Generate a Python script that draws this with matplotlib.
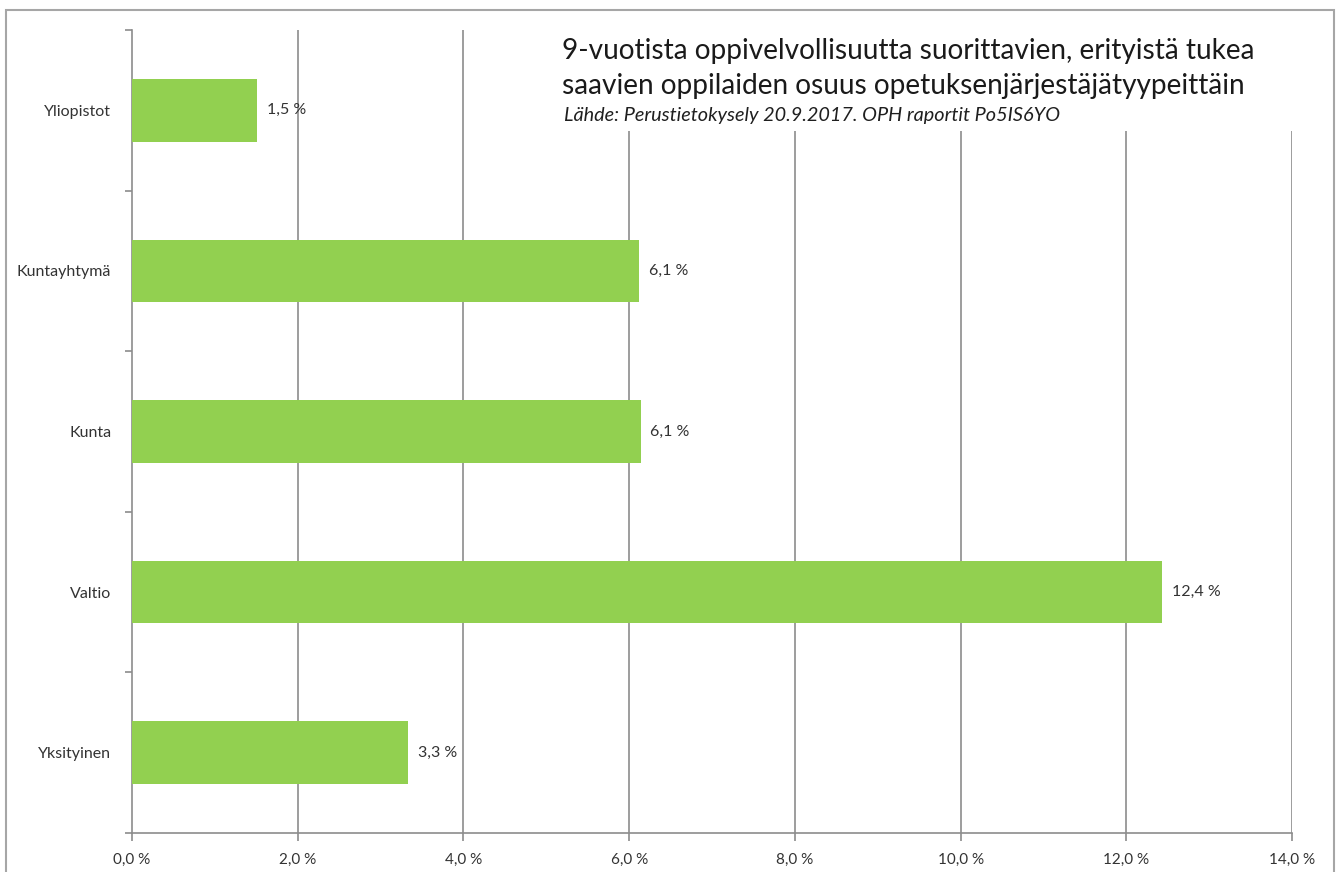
import matplotlib
matplotlib.use("Agg")
import matplotlib.pyplot as plt
from matplotlib.patches import Rectangle
from matplotlib.ticker import FixedLocator

categories = ["Yliopistot", "Kuntayhtymä", "Kunta", "Valtio", "Yksityinen"]
values = [1.5, 6.1, 6.1, 12.4, 3.3]
bar_ends = [1.51, 6.12, 6.14, 12.43, 3.33]
xticks = [0, 2, 4, 6, 8, 10, 12, 14]
xtick_labels = ["0,0 %", "2,0 %", "4,0 %", "6,0 %", "8,0 %", "10,0 %", "12,0 %", "14,0 %"]
title_lines = ["9-vuotista oppivelvollisuutta suorittavien, erityistä tukea",
               "saavien oppilaiden osuus opetuksenjärjestäjätyypeittäin"]
subtitle = "Lähde: Perustietokysely 20.9.2017. OPH raportit Po5IS6YO"

plt.rcParams['font.family'] = ['Lato', 'DejaVu Sans']
W, H = 1341, 872
fig = plt.figure(figsize=(W / 100, H / 100), dpi=100)
fig.patch.set_facecolor("white")

# outer frame
fig.add_artist(Rectangle((6 / W, -0.05), 1328 / W, (H - 10) / H + 0.05,
                         transform=fig.transFigure, fill=False,
                         edgecolor="#A6A6A6", linewidth=1.5))

ax = fig.add_axes([132 / W, (H - 833) / H, (1292 - 132) / W, (833 - 30) / H])
grid_c = "#8C8C8C"
text_c = "#333333"
ypos = list(range(len(categories)))
ax.barh(ypos, bar_ends, height=0.39, color="#92D050", zorder=3)
ax.set_xlim(0, 14)
ax.set_ylim(len(categories) - 0.5, -0.5)

ax.set_xticks(xticks)
ax.set_xticklabels(xtick_labels, fontsize=11, color=text_c)
ax.set_yticks(ypos)
ax.set_yticklabels(categories, fontsize=11.5, color=text_c)
ax.tick_params(axis='y', which='major', length=0, pad=15)
ax.yaxis.set_minor_locator(FixedLocator([i - 0.5 for i in range(len(categories) + 1)]))
ax.tick_params(axis='y', which='minor', length=5, color=grid_c, width=1.2)
ax.tick_params(axis='x', length=6, color=grid_c, width=1.2, pad=8)

for x in xticks[1:]:
    ax.axvline(x, color=grid_c, linewidth=1.2, zorder=1)
for s in ["top", "right"]:
    ax.spines[s].set_visible(False)
for s in ["left", "bottom"]:
    ax.spines[s].set_color(grid_c)
    ax.spines[s].set_linewidth(1.2)

for y, v, e in zip(ypos, values, bar_ends):
    ax.annotate(f"{v:.1f} %".replace(".", ","), xy=(e, y), xytext=(7, 0),
                textcoords="offset points", va="center", ha="left",
                fontsize=11.5, color=text_c, zorder=4)

# title box covering gridlines
fig.add_artist(Rectangle((555 / W, (H - 131) / H), (1305 - 555) / W, (131 - 26) / H,
                         transform=fig.transFigure, facecolor="white",
                         edgecolor="none", zorder=5))
fig.text(562 / W, (H - 51) / H, title_lines[0], fontsize=20.2, color="#1a1a1a",
         va="center", ha="left", zorder=6)
fig.text(562 / W, (H - 86) / H, title_lines[1], fontsize=20.2, color="#1a1a1a",
         va="center", ha="left", zorder=6)
fig.text(564 / W, (H - 116) / H, subtitle, fontsize=14.3, style="italic",
         color="#1f1f1f", va="center", ha="left", zorder=6)

fig.savefig("out.png", dpi=100, facecolor="white")
